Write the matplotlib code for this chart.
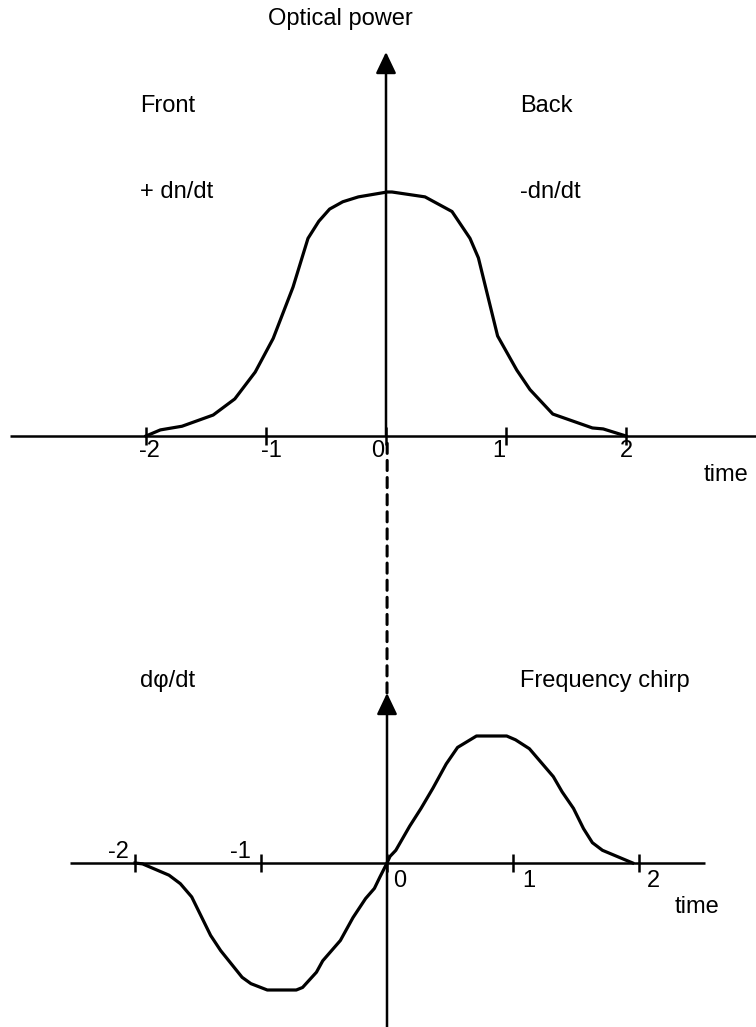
import numpy as np
import matplotlib
matplotlib.use("Agg")
import matplotlib.pyplot as plt
from matplotlib.patches import ConnectionPatch

plt.rcParams['font.family'] = ['Liberation Sans', 'DejaVu Sans']

W, H = 756, 1027

# optical power pulse (top)
power_t = [-2.0, -1.88, -1.70, -1.44, -1.26, -1.09, -0.94, -0.775, -0.65, -0.56,
           -0.47, -0.36, -0.23, 0.01, 0.05, 0.325, 0.55, 0.70, 0.77, 0.93,
           1.09, 1.20, 1.39, 1.72, 1.81, 2.0]
power_y = [0.0, 0.025, 0.04, 0.086, 0.152, 0.262, 0.40, 0.61, 0.81, 0.88,
           0.93, 0.96, 0.98, 1.0, 1.0, 0.98, 0.92, 0.81, 0.73, 0.41,
           0.27, 0.19, 0.09, 0.033, 0.029, 0.0]

# frequency chirp (bottom)
chirp_t = [-2.0, -1.94, -1.73, -1.64, -1.55, -1.40, -1.32, -1.15, -1.08, -0.95,
           -0.72, -0.67, -0.56, -0.51, -0.37, -0.27, -0.17, -0.10, -0.056, 0.0,
           0.024, 0.07, 0.18, 0.27, 0.365, 0.47, 0.56, 0.71, 0.95, 1.02,
           1.13, 1.32, 1.39, 1.48, 1.56, 1.63, 1.71, 1.95]
chirp_y = [0.0, -0.007, -0.096, -0.163, -0.267, -0.57, -0.69, -0.90, -0.95, -1.0,
           -1.0, -0.98, -0.86, -0.77, -0.61, -0.43, -0.28, -0.20, -0.11, 0.0,
           0.052, 0.10, 0.29, 0.43, 0.59, 0.78, 0.91, 1.0, 1.0, 0.97,
           0.90, 0.68, 0.56, 0.43, 0.27, 0.16, 0.10, 0.0]

ticks = [-2, -1, 0, 1, 2]
tick_labels = ['-2', '-1', '0', '1', '2']

FS = 17
LW_AX = 1.8
LW_CURVE = 2.3


def px(x, y):
    return x / W, 1 - y / H


def make_ax(fig, x0, y0, sx, sy):
    # full-figure transparent axes, origin at pixel (x0, y0), sx/sy px per unit
    ax = fig.add_axes([0, 0, 1, 1])
    ax.set_xlim(-x0 / sx, (W - x0) / sx)
    ax.set_ylim((y0 - H) / sy, y0 / sy)
    ax.axis('off')
    ax.patch.set_alpha(0)
    return ax


def arrow_up(ax, y0, y1):
    ax.annotate('', xy=(0, y1), xytext=(0, y0),
                arrowprops=dict(arrowstyle='-|>,head_length=0.65,head_width=0.31',
                                mutation_scale=20, lw=LW_AX, color='k',
                                shrinkA=0, shrinkB=0))


fig = plt.figure(figsize=(W / 100, H / 100), dpi=100)

# ---------------- top: optical power ----------------
ax1 = make_ax(fig, 386, 436, 120, 244)
ax1.plot([-3.13, 3.2], [0, 0], color='k', lw=LW_AX, solid_capstyle='butt')
arrow_up(ax1, 0, (436 - 52) / 244)
tk = 9 / 244
ax1.vlines(ticks, -tk, tk, color='k', lw=LW_AX)
ax1.plot(power_t, power_y, color='k', lw=LW_CURVE)

top_lab = [(-7, 'left'), (-5, 'left'), (-2, 'right'), (-1, 'right'), (0, 'center')]
for t, lab, (dx, ha) in zip(ticks, tick_labels, top_lab):
    ax1.annotate(lab, xy=(t, 0), xytext=(dx * 0.72, -21 * 0.72),
                 textcoords='offset points', ha=ha, va='baseline', fontsize=FS)

# ---------------- bottom: chirp ----------------
ax2 = make_ax(fig, 387, 863, 126, 127)
ax2.plot([(70 - 387) / 126, (705 - 387) / 126], [0, 0], color='k', lw=LW_AX,
         solid_capstyle='butt')
arrow_up(ax2, (863 - 1030) / 127, (863 - 693) / 127)
tk2 = 9 / 127
ax2.vlines(ticks, -tk2, tk2, color='k', lw=LW_AX)
ax2.plot(chirp_t, chirp_y, color='k', lw=LW_CURVE)

bot_lab = [(-6, 5, 'right'), (-10, 5, 'right'), (6, -24, 'left'),
           (9, -24, 'left'), (8, -24, 'left')]
for t, lab, (dx, dy, ha) in zip(ticks, tick_labels, bot_lab):
    ax2.annotate(lab, xy=(t, 0), xytext=(dx * 0.72, dy * 0.72),
                 textcoords='offset points', ha=ha, va='baseline', fontsize=FS)

# dashed link between the two time zeros
con = ConnectionPatch(xyA=(0.01, -0.03), coordsA=ax1.transData,
                      xyB=(0.0, (863 - 693) / 127), coordsB=ax2.transData,
                      color='k', lw=2.2, linestyle=(0, (3.3, 2.3)))
fig.add_artist(con)

# ---------------- labels ----------------
fig.text(*px(340, 25), 'Optical power', ha='center', va='baseline', fontsize=FS)
fig.text(*px(140, 112), 'Front', ha='left', va='baseline', fontsize=FS)
fig.text(*px(520, 112), 'Back', ha='left', va='baseline', fontsize=FS)
fig.text(*px(140, 198), '+ dn/dt', ha='left', va='baseline', fontsize=FS)
fig.text(*px(520, 198), '-dn/dt', ha='left', va='baseline', fontsize=FS)
fig.text(*px(704, 481), 'time', ha='left', va='baseline', fontsize=FS)
fig.text(*px(140, 687), 'd\u03c6/dt', ha='left', va='baseline', fontsize=FS)
fig.text(*px(520, 687), 'Frequency chirp', ha='left', va='baseline', fontsize=FS)
fig.text(*px(675, 913), 'time', ha='left', va='baseline', fontsize=FS)

fig.savefig('out.png', dpi=100)
